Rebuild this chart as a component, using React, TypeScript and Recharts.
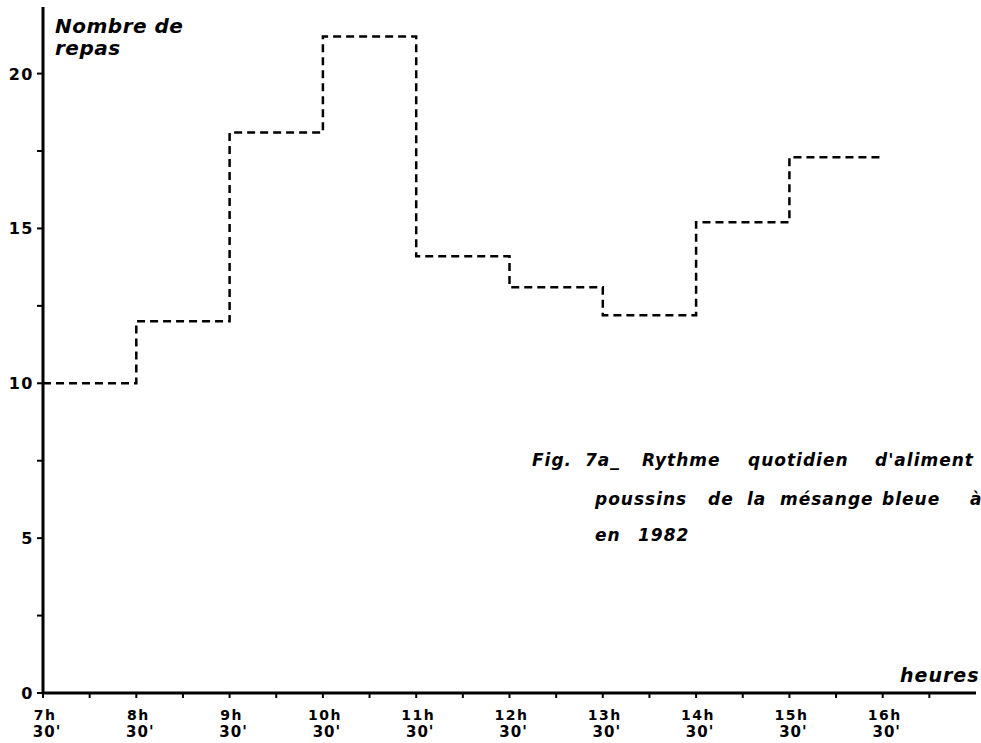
import { LineChart, Line, XAxis, YAxis } from "recharts";

// heures (début de chaque tranche) et nombre de repas
const hours = [7.5, 8.5, 9.5, 10.5, 11.5, 12.5, 13.5, 14.5, 15.5, 16.5];
const repas = [10, 12, 18.1, 21.2, 14.1, 13.1, 12.2, 15.2, 17.3];
const hourLabels = ["7h", "8h", "9h", "10h", "11h", "12h", "13h", "14h", "15h", "16h"];
const minuteLabel = "30'";
const xTicks = [7.5, 8, 8.5, 9, 9.5, 10, 10.5, 11, 11.5, 12, 12.5, 13, 13.5, 14, 14.5, 15, 15.5, 16, 16.5, 17];
const yTicks = [0, 2.5, 5, 7.5, 10, 12.5, 15, 17.5, 20];

// légende de la figure, mot par mot (x de départ, ligne) - coupée au bord comme l'original
const caption: [string, number, number][] = [
  ["Fig.", 532, 0], ["7a_", 585, 0], ["Rythme", 642, 0], ["quotidien", 748, 0], ["d'aliment", 875, 0],
  ["poussins", 595, 1], ["de", 708, 1], ["la", 747, 1], ["mésange", 780, 1], ["bleue", 882, 1], ["à", 970, 1],
  ["en", 595, 2], ["1982", 638, 2],
];
const captionBaselines = [466, 505, 541];

// step line needs an end point at 16h30
const data = hours.map((h, i) => ({
  h,
  repas: i < repas.length ? repas[i] : repas[repas.length - 1],
}));

const FONT = "'DejaVu Sans', sans-serif";

function XTick(props: any) {
  const { x, y, payload } = props;
  const idx = hours.indexOf(payload.value);
  if (idx < 0) return null;
  return (
    <g fontFamily={FONT} fontWeight={700} fill="#000">
      <text x={x + 2} y={y + 20} textAnchor="middle" fontSize={14} letterSpacing={1.5}>
        {hourLabels[idx]}
      </text>
      <text x={x + 4} y={y + 37} textAnchor="middle" fontSize={15} letterSpacing={1}>
        {minuteLabel}
      </text>
    </g>
  );
}

function YTick(props: any) {
  const { x, y, payload } = props;
  if (payload.value % 5 !== 0) return null;
  return (
    <text
      x={x - 1}
      y={y + 6}
      textAnchor="end"
      fontFamily={FONT}
      fontWeight={700}
      fontSize={16}
      letterSpacing={1.5}
      fill="#000"
    >
      {payload.value}
    </text>
  );
}

export default function App() {
  return (
    <div style={{ position: "absolute", left: 0, top: 0, width: 981, height: 743, background: "#fff", overflow: "hidden" }}>
      <LineChart
        width={981}
        height={743}
        data={data}
        margin={{ top: 7, right: 5, bottom: 0, left: 0 }}
      >
        <XAxis
          dataKey="h"
          type="number"
          domain={[7.5, 17.5]}
          ticks={xTicks}
          interval={0}
          height={50}
          axisLine={{ stroke: "#000", strokeWidth: 3 }}
          tickLine={{ stroke: "#000", strokeWidth: 2 }}
          tickSize={5}
          tick={<XTick />}
        />
        <YAxis
          type="number"
          domain={[0, 22.15]}
          ticks={yTicks}
          interval={0}
          width={43}
          axisLine={{ stroke: "#000", strokeWidth: 3 }}
          tickLine={{ stroke: "#000", strokeWidth: 2 }}
          tickSize={6}
          tick={<YTick />}
        />
        <Line
          type="stepAfter"
          dataKey="repas"
          stroke="#000"
          strokeWidth={2.5}
          strokeDasharray="8 5"
          dot={false}
          isAnimationActive={false}
        />
      </LineChart>
      <svg
        width={981}
        height={743}
        style={{ position: "absolute", left: 0, top: 0, pointerEvents: "none" }}
      >
        <g fontFamily={FONT} fontWeight={700} fontStyle="italic" fill="#000">
          <text x={55} y={33} fontSize={20} letterSpacing={0.5}>Nombre de</text>
          <text x={55} y={55} fontSize={20} letterSpacing={0.5}>repas</text>
          <text x={900} y={682} fontSize={19} letterSpacing={1}>heures</text>
        </g>
        <g fontFamily={FONT} fontWeight={700} fontStyle="italic" fill="#000" fontSize={17} letterSpacing={1}>
          {caption.map(([w, x, line]) => (
            <text key={w + x} x={x} y={captionBaselines[line]}>{w}</text>
          ))}
        </g>
      </svg>
    </div>
  );
}
